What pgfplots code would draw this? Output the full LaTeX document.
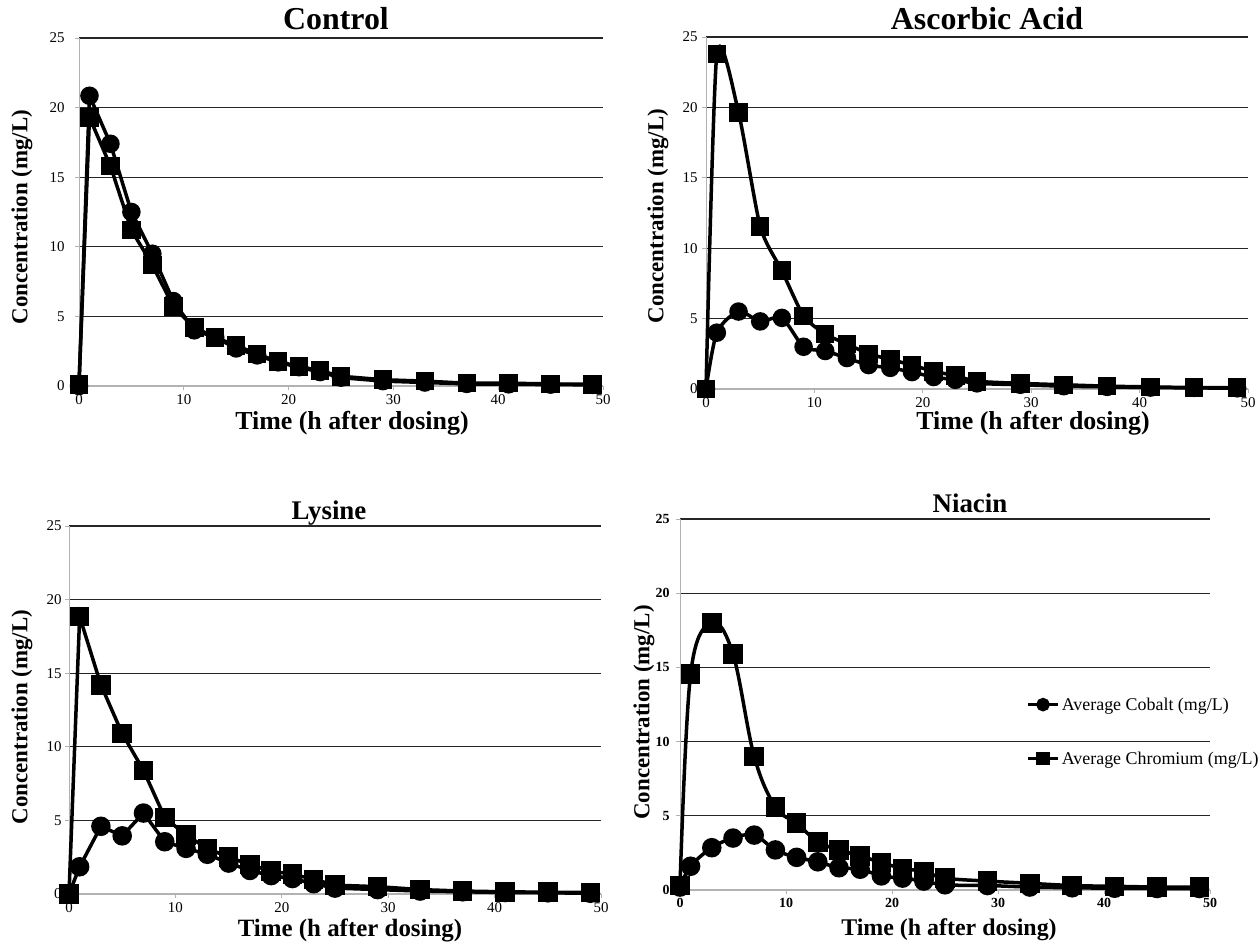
\documentclass[border=0pt]{standalone}
\usepackage{fontspec}
\setmainfont{Liberation Serif}
\usepackage{pgfplots}
\usepackage{pgfplotstable}
\pgfplotsset{compat=1.18}

\pgfplotstableread{
t co cr
0 0 0.1
1 20.85 19.3
3 17.4 15.8
5 12.5 11.2
7 9.5 8.7
9 6.1 5.7
11 4.0 4.2
13 3.5 3.5
15 2.7 2.9
17 2.2 2.3
19 1.7 1.75
21 1.35 1.4
23 1.0 1.1
25 0.6 0.7
29 0.35 0.45
33 0.25 0.35
37 0.15 0.2
41 0.12 0.2
45 0.1 0.15
49 0.08 0.12
}\control

\pgfplotstableread{
t co cr
0 0 0
1 4.0 23.8
3 5.5 19.65
5 4.8 11.55
7 5.05 8.4
9 3.0 5.2
11 2.7 3.9
13 2.2 3.2
15 1.7 2.5
17 1.5 2.1
19 1.2 1.7
21 0.85 1.25
23 0.65 0.95
25 0.4 0.55
29 0.3 0.4
33 0.2 0.3
37 0.15 0.2
41 0.1 0.15
45 0.08 0.1
49 0.05 0.1
}\ascorbic

\pgfplotstableread{
t co cr
0 0 0
1 1.85 18.85
3 4.6 14.2
5 3.95 10.9
7 5.5 8.4
9 3.55 5.2
11 3.1 4.0
13 2.7 3.1
15 2.1 2.5
17 1.6 2.0
19 1.25 1.55
21 1.05 1.35
23 0.7 1.0
25 0.4 0.6
29 0.3 0.5
33 0.2 0.3
37 0.15 0.2
41 0.1 0.15
45 0.08 0.12
49 0.05 0.1
}\lysine

\pgfplotstableread{
t co cr
0 0.2 0.3
1 1.6 14.55
3 2.85 18.0
5 3.5 15.9
7 3.7 9.0
9 2.7 5.6
11 2.2 4.5
13 1.9 3.25
15 1.5 2.7
17 1.4 2.3
19 0.95 1.85
21 0.8 1.45
23 0.6 1.25
25 0.35 0.8
29 0.3 0.6
33 0.2 0.45
37 0.15 0.3
41 0.12 0.25
45 0.1 0.2
49 0.1 0.2
}\niacin

\pgfplotsset{
  panel/.style={
    scale only axis, anchor=south west, clip=false,
    xmin=0, xmax=50, ymin=0, ymax=25,
    xtick={0,10,...,50}, ytick={0,5,...,25},
    axis x line*=bottom, axis y line*=left,
    axis line style={draw=black!30, -},
    x axis line style={line width=1.6bp},
    y axis line style={line width=0.8bp},
    ymajorgrids, grid style={draw=black!85, line width=1.3bp},
    major tick length=4bp, tick align=outside,
    tick style={draw=black!30, line width=0.8bp},
    /pgf/number format/assume math mode=true,
    ticklabel style={font=\fontsize{15}{15}\selectfont},
    xticklabel style={yshift=-1bp},
    xlabel={Time (h after dosing)},
    ylabel={Concentration (mg/L)},
    xlabel style={at={(axis description cs:0.5,0)}, anchor=center, font=\fontsize{26}{26}\selectfont\bfseries},
    ylabel style={at={(axis description cs:0,0.5)}, anchor=center, font=\fontsize{23}{23}\selectfont\bfseries},
    title style={at={(axis description cs:0.5,1)}, anchor=base, font=\fontsize{32}{32}\selectfont\bfseries},
    legend image code/.code={\draw[mark repeat=2,mark phase=2,#1,mark size=5bp] plot coordinates {(0bp,0bp) (15bp,0bp) (30bp,0bp)};},
  },
  co/.style={black, line width=3.5bp, mark=*, mark size=7.5bp, mark options={solid, fill=black}},
  cr/.style={black, line width=3.5bp, mark=square*, mark size=7.5bp, mark options={solid, fill=black}},
}

\begin{document}
\begin{tikzpicture}
\useasboundingbox (0,0) rectangle (1258bp,942bp);

% Control
\begin{axis}[panel, at={(79bp,556bp)}, width=524bp, height=348bp,
  title={Control}, title style={yshift=3bp, xshift=-5bp},
  xlabel style={yshift=-37bp, xshift=11bp},
  ylabel style={yshift=57bp, xshift=-5bp},
  yticklabel style={xshift=-7bp}]
\addplot[co] table[x=t, y=co] {\control};
\addplot[cr] table[x=t, y=cr] {\control};
\end{axis}

% Ascorbic Acid
\begin{axis}[panel, at={(706bp,553bp)}, width=542bp, height=352bp,
  title={Ascorbic Acid}, title style={yshift=2bp, xshift=10bp},
  xlabel style={yshift=-34bp, xshift=56bp},
  ylabel style={yshift=48bp, xshift=-3bp},
  yticklabel style={xshift=-1bp}]
\addplot[co, smooth, tension=0.45] table[x=t, y=co] {\ascorbic};
\addplot[cr, smooth, tension=0.4] table[x=t, y=cr] {\ascorbic};
\end{axis}

% Lysine
\begin{axis}[panel, at={(69bp,48bp)}, width=532bp, height=368bp,
  title={Lysine}, title style={yshift=1bp, xshift=-6bp, font=\fontsize{27}{27}\selectfont\bfseries},
  xlabel style={yshift=-36bp, xshift=15bp, font=\fontsize{25}{25}\selectfont\bfseries},
  ylabel style={yshift=47bp, xshift=-7bp},
  yticklabel style={xshift=0bp}]
\addplot[co, mark size=8bp] table[x=t, y=co] {\lysine};
\addplot[cr, mark size=8bp] table[x=t, y=cr] {\lysine};
\end{axis}

% Niacin
\begin{axis}[panel, at={(680bp,52bp)}, width=530bp, height=371bp,
  title={Niacin}, title style={yshift=1bp, xshift=25bp, font=\fontsize{27}{27}\selectfont\bfseries},
  xlabel style={yshift=-40bp, xshift=4bp, font=\fontsize{24}{24}\selectfont\bfseries},
  ylabel style={yshift=36bp, xshift=-8bp},
  ticklabel style={font=\fontsize{14}{14}\selectfont\bfseries},
  yticklabel style={xshift=-3bp},
  legend style={at={(0.653,0.427)}, anchor=west, draw=none, fill=none,
    inner sep=0pt, row sep=36bp, font=\fontsize{18}{18}\selectfont},
  legend cell align=left]
\addplot[co, smooth, tension=0.6, mark size=8bp] table[x=t, y=co] {\niacin};
\addlegendentry{Average Cobalt (mg/L)}
\addplot[cr, smooth, tension=0.6, mark size=8bp] table[x=t, y=cr] {\niacin};
\addlegendentry{Average Chromium (mg/L)}
\end{axis}
\end{tikzpicture}
\end{document}
